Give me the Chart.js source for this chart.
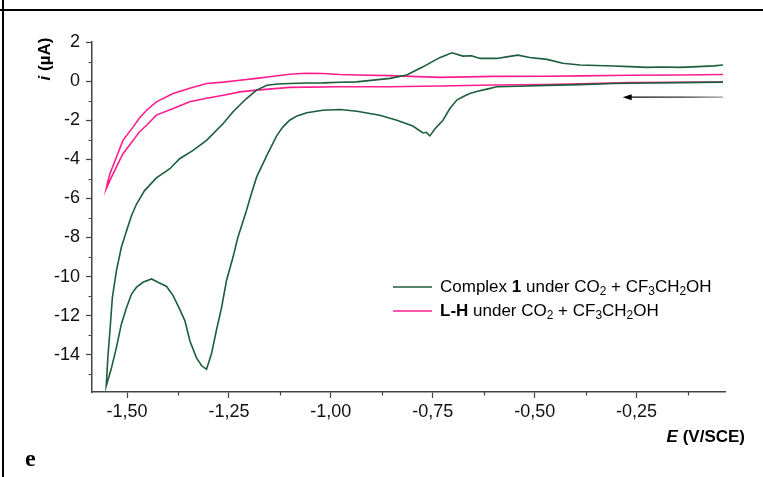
<!DOCTYPE html>
<html lang="en">
<head>
<meta charset="UTF-8">
<title>CV</title>
<script src="https://cdn.jsdelivr.net/npm/chart.js"></script>
<style>
  html, body { margin: 0; padding: 0; background: #fff; }
  canvas { display: block; }
</style>
</head>
<body>
<canvas id="cv" width="763" height="477"></canvas>
<script>
  // Complex 1 under CO2 + CF3CH2OH (scan starts on the right, goes negative, then back)
  const complexE = [
    -0.038, -0.144, -0.226, -0.308, -0.389, -0.470, -0.541, -0.593, -0.617, -0.640,
    -0.659, -0.676, -0.691, -0.708, -0.725, -0.745, -0.757, -0.766, -0.774, -0.799,
    -0.838, -0.880, -0.936, -0.978, -1.020, -1.059, -1.083, -1.101, -1.118, -1.133,
    -1.157, -1.182, -1.195, -1.207, -1.228, -1.240, -1.256, -1.268, -1.281, -1.293,
    -1.305, -1.317, -1.330, -1.346, -1.358, -1.371, -1.387, -1.403, -1.424, -1.440,
    -1.461, -1.477, -1.489, -1.501, -1.514, -1.526, -1.538, -1.551,
    -1.547, -1.542, -1.536, -1.526, -1.514, -1.501, -1.489, -1.477, -1.457, -1.428,
    -1.395, -1.371, -1.338, -1.305, -1.264, -1.240, -1.207, -1.182, -1.157, -1.130,
    -1.101, -1.060, -1.019, -0.978, -0.937, -0.896, -0.855, -0.814, -0.774, -0.733,
    -0.703, -0.676, -0.655, -0.634, -0.593, -0.565, -0.541, -0.512, -0.470, -0.431,
    -0.389, -0.348, -0.308, -0.266, -0.225, -0.185, -0.144, -0.100, -0.060, -0.038
  ];
  const complexI = [
    -0.05, -0.08, -0.10, -0.12, -0.18, -0.22, -0.26, -0.29, -0.41, -0.52,
    -0.63, -0.80, -0.97, -1.40, -2.00, -2.45, -2.80, -2.62, -2.65, -2.30,
    -2.00, -1.75, -1.54, -1.45, -1.49, -1.62, -1.78, -2.00, -2.35, -2.80,
    -3.80, -4.90, -5.76, -6.62, -7.98, -9.00, -10.20, -11.57, -12.77, -13.96,
    -14.74, -14.56, -14.14, -13.28, -12.26, -11.66, -10.97, -10.50, -10.29, -10.12,
    -10.29, -10.55, -10.89, -11.57, -12.43, -13.62, -14.65, -15.59,
    -14.10, -12.77, -11.06, -9.69, -8.50, -7.64, -6.87, -6.30, -5.60, -4.95,
    -4.48, -3.97, -3.54, -3.03, -2.17, -1.57, -0.89, -0.46, -0.21, -0.15,
    -0.12, -0.10, -0.09, -0.06, -0.04, 0.05, 0.14, 0.31, 0.73, 1.20,
    1.45, 1.28, 1.30, 1.16, 1.16, 1.25, 1.33, 1.21, 1.11, 0.91,
    0.82, 0.80, 0.77, 0.74, 0.70, 0.72, 0.70, 0.74, 0.78, 0.82
  ];

  // L-H under CO2 + CF3CH2OH
  const lhE = [
    -0.038, -0.144, -0.266, -0.389, -0.470, -0.600, -0.733, -0.855, -0.978, -1.101,
    -1.182, -1.223, -1.264, -1.305, -1.346, -1.387, -1.428, -1.452, -1.470, -1.485,
    -1.510, -1.526, -1.542, -1.551,
    -1.548, -1.542, -1.526, -1.510, -1.485, -1.470, -1.452, -1.428, -1.387, -1.346,
    -1.305, -1.264, -1.223, -1.182, -1.141, -1.101, -1.060, -1.019, -0.978, -0.937,
    -0.855, -0.733, -0.600, -0.470, -0.389, -0.266, -0.144, -0.038
  ];
  const lhI = [
    -0.05, -0.06, -0.08, -0.14, -0.17, -0.20, -0.25, -0.29, -0.29, -0.32,
    -0.46, -0.55, -0.72, -0.88, -1.06, -1.40, -1.74, -2.26, -2.60, -3.03,
    -3.71, -4.39, -5.08, -5.50,
    -5.20, -4.74, -3.88, -3.03, -2.34, -1.90, -1.49, -1.06, -0.63, -0.37,
    -0.12, -0.05, 0.04, 0.14, 0.25, 0.35, 0.40, 0.39, 0.34, 0.31,
    0.28, 0.19, 0.24, 0.25, 0.27, 0.30, 0.31, 0.34
  ];

  const xTicks = [-1.5, -1.25, -1.0, -0.75, -0.5, -0.25];
  const xMinorTicks = [-1.375, -1.125, -0.875, -0.625, -0.375, -0.125];
  const yTicks = [2, 0, -2, -4, -6, -8, -10, -12, -14];
  const yMinorTicks = [1, -1, -3, -5, -7, -9, -11, -13, -15];

  // scan direction arrow, in data units
  const arrowFrom = { x: -0.038, y: -0.82 };
  const arrowTo = { x: -0.284, y: -0.82 };

  const GREEN = '#1b5e3b';
  const PINK = '#ff1c8d';
  const FONT = '"Liberation Sans", Arial, sans-serif';

  const legendItems = [
    { color: GREEN, parts: [['Complex ', ''], ['1', 'b'], [' under CO', ''], ['2', 's'], [' + CF', ''], ['3', 's'], ['CH', ''], ['2', 's'], ['OH', '']] },
    { color: PINK, parts: [['L-H', 'b'], [' under CO', ''], ['2', 's'], [' + CF', ''], ['3', 's'], ['CH', ''], ['2', 's'], ['OH', '']] }
  ];

  function toPoints(xs, ys) {
    return xs.map((x, i) => ({ x: x, y: ys[i] }));
  }

  function drawRich(ctx, x, y, parts, size) {
    parts.forEach(([t, s]) => {
      if (s === 's') {
        ctx.font = (size * 0.7) + 'px ' + FONT;
        ctx.fillText(t, x, y + size * 0.3);
      } else {
        ctx.font = (s === 'b' ? 'bold ' : '') + size + 'px ' + FONT;
        ctx.fillText(t, x, y);
      }
      x += ctx.measureText(t).width;
    });
  }

  const extras = {
    id: 'extras',
    afterDraw(chart) {
      const ctx = chart.ctx;
      const xs = chart.scales.x, ys = chart.scales.y;
      const area = chart.chartArea;
      ctx.save();

      // panel frame
      ctx.fillStyle = '#000';
      ctx.fillRect(0, 9, 763, 2);
      ctx.fillRect(2, 0, 2, 477);

      // minor ticks
      ctx.strokeStyle = '#444';
      ctx.lineWidth = 1.2;
      ctx.beginPath();
      xMinorTicks.forEach(v => {
        const px = Math.round(xs.getPixelForValue(v)) + 0.5;
        ctx.moveTo(px, area.bottom);
        ctx.lineTo(px, area.bottom + 3.5);
      });
      yMinorTicks.forEach(v => {
        const py = Math.round(ys.getPixelForValue(v)) + 0.5;
        ctx.moveTo(area.left, py);
        ctx.lineTo(area.left - 3.5, py);
      });
      ctx.stroke();

      // scan direction arrow
      const ax0 = xs.getPixelForValue(arrowFrom.x), ay = ys.getPixelForValue(arrowFrom.y);
      const ax1 = xs.getPixelForValue(arrowTo.x);
      const grad = ctx.createLinearGradient(ax1, 0, ax0, 0);
      grad.addColorStop(0, '#000');
      grad.addColorStop(0.6, '#333');
      grad.addColorStop(1, '#999');
      ctx.strokeStyle = grad;
      ctx.lineWidth = 1.4;
      ctx.beginPath();
      ctx.moveTo(ax0, ay);
      ctx.lineTo(ax1 + 6, ay);
      ctx.stroke();
      ctx.fillStyle = '#000';
      ctx.beginPath();
      ctx.moveTo(ax1, ay);
      ctx.lineTo(ax1 + 9, ay - 3);
      ctx.lineTo(ax1 + 9, ay + 3);
      ctx.closePath();
      ctx.fill();

      // legend
      ctx.textBaseline = 'middle';
      ctx.textAlign = 'left';
      legendItems.forEach((it, k) => {
        const y = 287 + k * 24;
        ctx.strokeStyle = it.color;
        ctx.lineWidth = 1.5;
        ctx.beginPath();
        ctx.moveTo(393, y);
        ctx.lineTo(432, y);
        ctx.stroke();
        ctx.fillStyle = '#000';
        drawRich(ctx, 440, y, it.parts, 17);
      });

      // axis titles
      ctx.fillStyle = '#000';
      ctx.save();
      ctx.translate(45, 59);
      ctx.rotate(-Math.PI / 2);
      ctx.textBaseline = 'middle';
      ctx.font = 'italic bold 17px ' + FONT;
      const wi = ctx.measureText('i').width;
      ctx.font = 'bold 17px ' + FONT;
      const wr = ctx.measureText(' (\u00b5A)').width;
      let tx = -(wi + wr) / 2;
      ctx.font = 'italic bold 17px ' + FONT;
      ctx.fillText('i', tx, 0);
      ctx.font = 'bold 17px ' + FONT;
      ctx.fillText(' (\u00b5A)', tx + wi, 0);
      ctx.restore();

      ctx.textBaseline = 'alphabetic';
      ctx.font = 'bold 17px ' + FONT;
      const wRest = ctx.measureText(' (V/SCE)').width;
      ctx.font = 'italic bold 17px ' + FONT;
      const wE = ctx.measureText('E').width;
      let ex = 745 - wRest - wE;
      ctx.fillText('E', ex, 442);
      ctx.font = 'bold 17px ' + FONT;
      ctx.fillText(' (V/SCE)', ex + wE, 442);

      // panel letter
      ctx.font = 'bold 24px "Liberation Serif", "Times New Roman", serif';
      ctx.fillText('e', 25, 466);
      ctx.restore();
    }
  };

  new Chart(document.getElementById('cv'), {
    type: 'scatter',
    data: {
      datasets: [
        { label: 'Complex 1 under CO2 + CF3CH2OH', data: toPoints(complexE, complexI), borderColor: GREEN, borderWidth: 1.6, showLine: true, pointRadius: 0, tension: 0 },
        { label: 'L-H under CO2 + CF3CH2OH', data: toPoints(lhE, lhI), borderColor: PINK, borderWidth: 1.6, showLine: true, pointRadius: 0, tension: 0 }
      ]
    },
    options: {
      responsive: false,
      devicePixelRatio: 1,
      animation: false,
      layout: { padding: { left: 0, top: 42, right: 38, bottom: 0 } },
      plugins: { legend: { display: false }, tooltip: { enabled: false } },
      scales: {
        x: {
          type: 'linear',
          min: -1.586,
          max: -0.033,
          afterBuildTicks: s => { s.ticks = xTicks.map(v => ({ value: v })); },
          afterFit: s => { s.height = 85; },
          border: { display: true, color: '#444', width: 1.5 },
          grid: { drawOnChartArea: false, drawTicks: true, tickLength: 6, color: '#444', tickWidth: 1.2 },
          ticks: {
            color: '#111',
            padding: 3,
            maxRotation: 0,
            font: { family: FONT, size: 18 },
            callback: v => v.toFixed(2).replace('.', ',')
          }
        },
        y: {
          type: 'linear',
          min: -15.9,
          max: 2,
          afterBuildTicks: s => { s.ticks = yTicks.map(v => ({ value: v })); },
          afterFit: s => { s.width = 92; },
          border: { display: true, color: '#444', width: 1.5 },
          grid: { drawOnChartArea: false, drawTicks: true, tickLength: 6, color: '#444', tickWidth: 1.2 },
          ticks: {
            color: '#111',
            padding: 6,
            font: { family: FONT, size: 18 },
            callback: v => String(v)
          }
        }
      }
    },
    plugins: [extras]
  });
</script>
</body>
</html>
